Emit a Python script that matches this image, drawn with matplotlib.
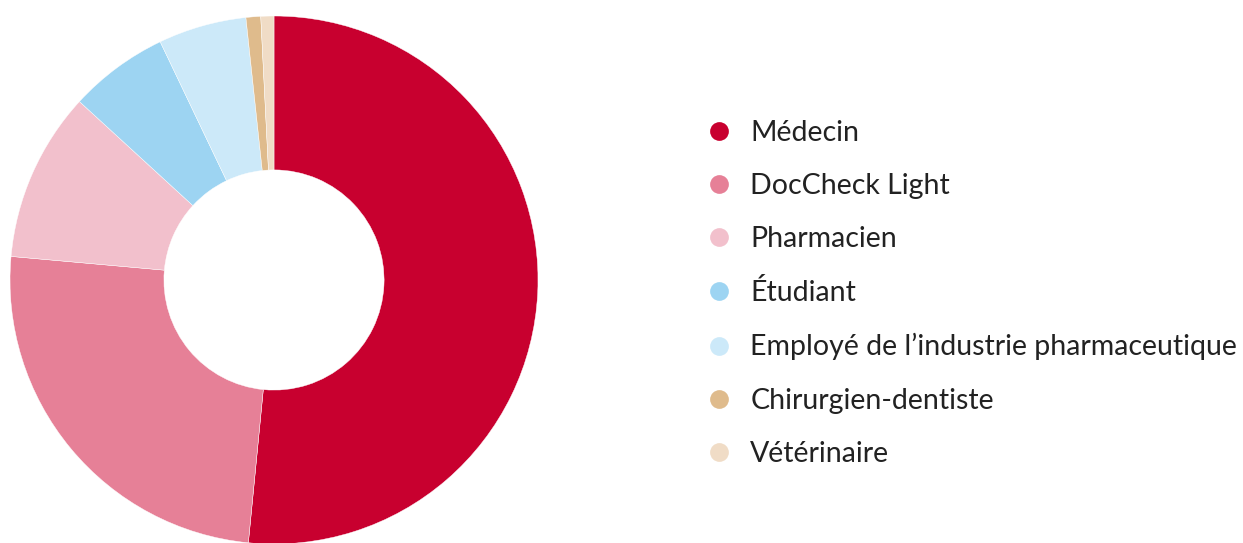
import matplotlib
matplotlib.use('Agg')
import matplotlib.pyplot as plt
from matplotlib.lines import Line2D

# categories and shares (in %)
labels = ['Médecin', 'DocCheck Light', 'Pharmacien', 'Étudiant',
          "Employé de l’industrie pharmaceutique", 'Chirurgien-dentiste', 'Vétérinaire']
values = [51.6, 24.9, 10.4, 6.1, 5.4, 0.9, 0.8]
colors = ['#C8002F', '#E68097', '#F2C0CC', '#9DD4F2', '#CCE9F9', '#DFBB8C', '#F0DCC6']

plt.rcParams['font.family'] = ['Lato', 'DejaVu Sans']

fig = plt.figure(figsize=(12.43, 5.43), dpi=100)
ax = fig.add_axes([10 / 1243, -1 / 543, 528 / 1243, 528 / 543])
ax.pie(values, colors=colors, startangle=90, counterclock=False,
       wedgeprops=dict(width=0.583, edgecolor='white', linewidth=0.3))
ax.set_xlim(-1, 1)
ax.set_ylim(-1, 1)
ax.set_aspect('equal')
ax.axis('off')

handles = [Line2D([], [], marker='o', linestyle='none', markersize=13.5,
                  markerfacecolor=c, markeredgecolor='none') for c in colors]
leg = fig.legend(handles, labels, loc='upper left', bbox_to_anchor=(702 / 1243, 1 - 120 / 543),
                 frameon=False, fontsize=20.5, labelspacing=0.95, handletextpad=0.5,
                 handlelength=1.2, borderpad=0, borderaxespad=0)
for t in leg.get_texts():
    t.set_color('#222222')

fig.savefig('out.png', dpi=100)
